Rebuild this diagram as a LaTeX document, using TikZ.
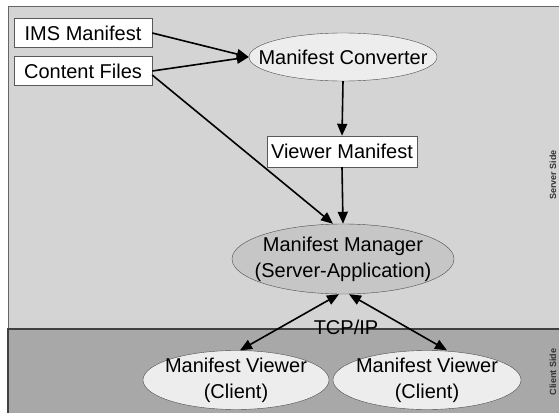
\documentclass[tikz,border=0pt]{standalone}
\usepackage{fontspec}
\setmainfont{Liberation Sans}
\usetikzlibrary{arrows.meta, shapes.geometric}

\definecolor{serverbg}{HTML}{D4D4D4}
\definecolor{clientbg}{HTML}{A8A8A8}
\definecolor{procfill}{HTML}{EDEDED}
\definecolor{mgrfill}{HTML}{C6C6C6}

\begin{document}
\begin{tikzpicture}[x=1pt,y=-1pt,
    filebox/.style={draw=black!65, fill=white, minimum width=138pt, minimum height=29pt,
        inner sep=0pt, font=\fontsize{20}{26}\selectfont},
    proc/.style={ellipse, draw=black!70, fill=procfill, inner xsep=-25pt, inner ysep=-4pt,
        align=center, font=\fontsize{20}{26}\selectfont},
    side/.style={rotate=90, inner sep=0pt, font=\fontsize{9}{10}\selectfont\bfseries, text=black!80},
    link/.style={line width=1.6pt, -{Triangle[length=12pt,width=10pt]}},
    dlink/.style={line width=1.6pt, {Triangle[length=12pt,width=10pt]}-{Triangle[length=12pt,width=10pt]}}]
\useasboundingbox (0,0) rectangle (559,412);
\fill[white] (0,0) rectangle (559,412);

% server side / client side
\filldraw[fill=serverbg, draw=black!60, line width=1pt] (8,7) rectangle (575,329);
\filldraw[fill=clientbg, draw=black!75, line width=1.2pt] (8,329) rectangle (575,420);
\node[side] (srv) at (553,175) {Server Side};
\node[side] (cli) at (553,372) {Client Side};

\node[filebox] (ims) at (83,33) {IMS Manifest};
\node[filebox] (content) at (83,71) {Content Files};
\node[proc, minimum width=188pt, minimum height=48pt] (conv) at (343,57) {Manifest Converter};
\node[filebox, minimum width=150pt, minimum height=31pt] (vm) at (342,151.5) {Viewer Manifest};
\node[proc, fill=mgrfill, minimum width=222pt, minimum height=70pt] (mgr) at (343,259) {Manifest Manager\\(Server-Application)};
\node[proc, minimum width=186pt, minimum height=59pt] (view1) at (236,380) {Manifest Viewer\\(Client)};
\node[proc, minimum width=188pt, minimum height=59pt] (view2) at (427,380) {Manifest Viewer\\(Client)};
\node[font=\fontsize{20}{26}\selectfont, inner sep=0pt] (tcp) at (346,327) {TCP/IP};

\draw[link] (ims.east) -- (conv.west);
\draw[link] (content.east) -- (conv.west);
\draw[link] ([yshift=-4pt]content.east) -- ([xshift=-10pt]mgr.north);
\draw[link] (conv.south) -- (vm.north);
\draw[link] (vm.south) -- (mgr.north);
\draw[dlink] ([xshift=-4pt]mgr.south) -- ([xshift=4pt]view1.north);
\draw[dlink] ([xshift=6pt]mgr.south) -- ([xshift=20pt]view2.north);

\end{tikzpicture}
\end{document}
